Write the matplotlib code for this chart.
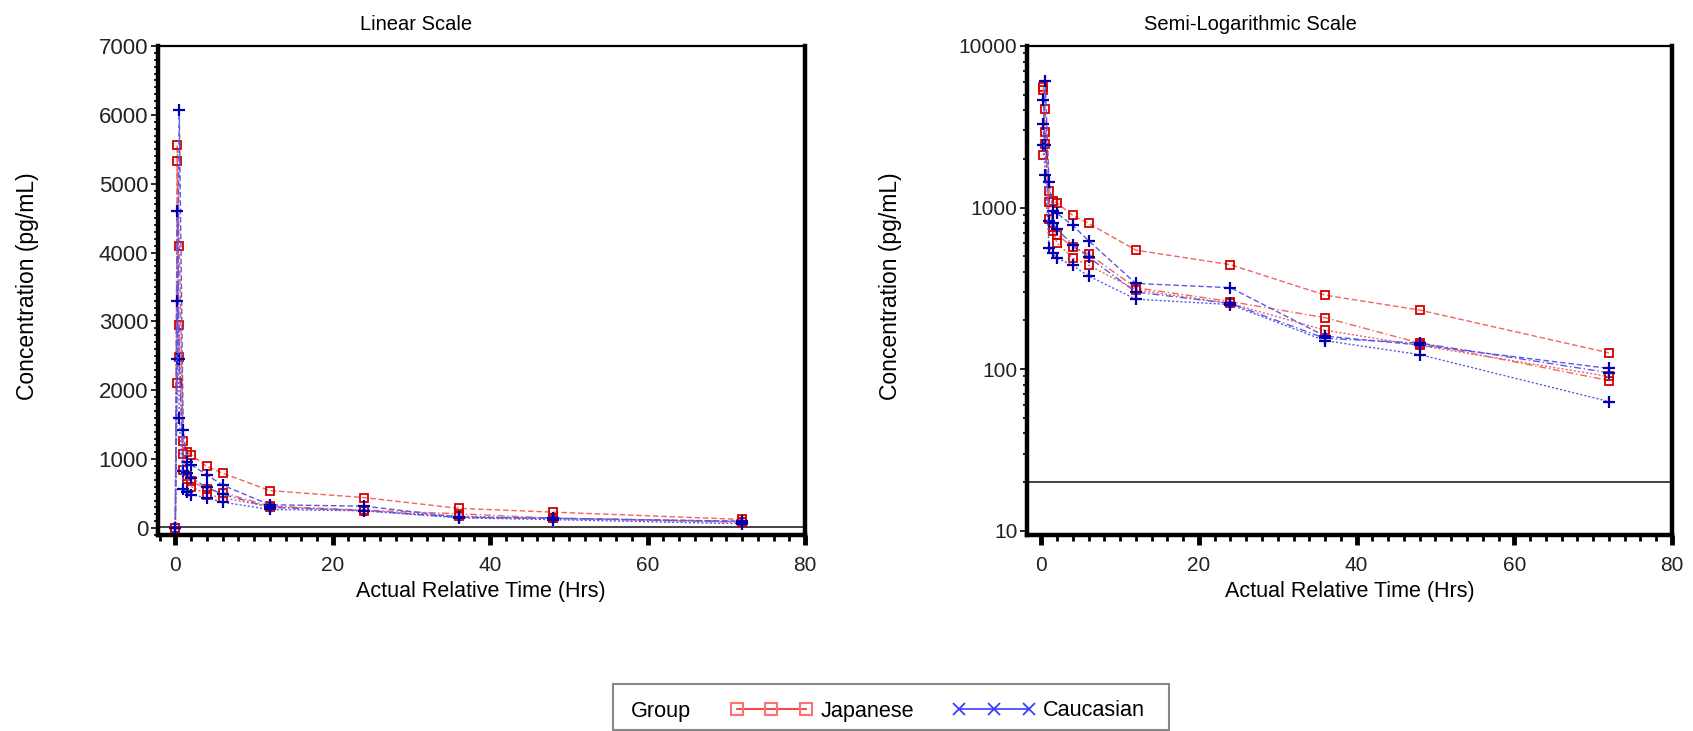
import numpy as np
import matplotlib
matplotlib.use("Agg")
import matplotlib.pyplot as plt
from matplotlib.lines import Line2D
from matplotlib.patches import Rectangle
from matplotlib.ticker import MultipleLocator, LogLocator, FixedLocator, NullFormatter, FuncFormatter

# nominal sampling times (hrs)
times = [0, 0.25, 0.5, 1, 1.5, 2, 4, 6, 12, 24, 36, 48, 72]

# concentrations (pg/mL) per subject
jp_1 = [0, 5560, 4100, 1270, 1100, 1064, 895, 798, 545, 443, 287, 232, 126]
jp_2 = [0, 5330, 2490, 1075, 760, 681, 568, 516, 319, 262, 208, 145, 85]
jp_3 = [0, 2100, 2950, 850, 720, 604, 487, 440, 310, 255, 174, 140, 90]
ca_1 = [0, 2450, 6070, 1430, 953, 921, 775, 624, 339, 319, 160, 141, 101]
ca_2 = [0, 4600, 2450, 825, 800, 732, 590, 493, 300, 255, 155, 145, 95]
ca_3 = [0, 3300, 1600, 562, 520, 487, 438, 377, 271, 251, 150, 123, 63]

japanese = [jp_1, jp_2, jp_3]
caucasian = [ca_1, ca_2, ca_3]
lloq = 20

group_labels = ["Japanese", "Caucasian"]

plt.rcParams["font.family"] = ["Liberation Sans", "DejaVu Sans"]

RED_LINE, RED_MK = "#f06464", "#d40000"
BLUE_LINE, BLUE_MK = "#5a5ae6", "#0000b0"
dashes = [(0, (4, 2)), (0, (5, 2, 1, 2)), (0, (1.5, 1.5))]

W, H = 1693, 731
fig = plt.figure(figsize=(W / 100, H / 100), dpi=100)

top, bot = 46, 535
ax_lin = fig.add_axes([158 / W, 1 - bot / H, (805 - 158) / W, (bot - top) / H])
ax_log = fig.add_axes([1027 / W, 1 - bot / H, (1672 - 1027) / W, (bot - top) / H])


def draw(ax, log=False):
    t = np.array(times, dtype=float)
    for i, c in enumerate(japanese):
        c = np.array(c, dtype=float)
        if log:
            c = np.where(c > 0, c, np.nan)
        ax.plot(t, c, color=RED_LINE, linestyle=dashes[i], linewidth=1.0,
                marker="s", markersize=6, markerfacecolor="none",
                markeredgecolor=RED_MK, markeredgewidth=1.3, zorder=3)
    for i, c in enumerate(caucasian):
        c = np.array(c, dtype=float)
        if log:
            c = np.where(c > 0, c, np.nan)
        ax.plot(t, c, color=BLUE_LINE, linestyle=dashes[i], linewidth=1.0,
                marker="+", markersize=9, markeredgecolor=BLUE_MK,
                markeredgewidth=1.6, zorder=4)
    ax.axhline(lloq, color="#222222", linewidth=1.2, zorder=2)

    for side in ["left", "bottom", "right"]:
        ax.spines[side].set_linewidth(3.2)
    ax.spines["top"].set_linewidth(1.6)

    ax.xaxis.set_major_locator(MultipleLocator(20))
    ax.xaxis.set_minor_locator(MultipleLocator(2))
    ax.tick_params(axis="x", which="major", direction="out", length=7, width=3.5,
                   labelsize=15, labelcolor="#222222", pad=8)
    ax.tick_params(axis="x", which="minor", direction="out", length=4, width=2)
    ax.tick_params(axis="y", which="major", direction="out", length=5, width=1.2,
                   labelcolor="#222222", pad=2)
    ax.tick_params(axis="y", which="minor", direction="out", length=3, width=1.2)


draw(ax_lin)
ax_lin.set_xlim(-2.2, 80)
ax_lin.set_ylim(-100, 7000)
ax_lin.yaxis.set_major_locator(MultipleLocator(1000))
ax_lin.yaxis.set_minor_locator(MultipleLocator(100))
ax_lin.tick_params(axis="y", labelsize=16)

draw(ax_log, log=True)
ax_log.set_yscale("log")
ax_log.set_xlim(-1.8, 80)
ax_log.set_ylim(9.4, 10000)
ax_log.yaxis.set_major_locator(FixedLocator([10, 100, 1000, 10000]))
ax_log.yaxis.set_major_formatter(FuncFormatter(lambda v, p: f"{v:.0f}"))
ax_log.yaxis.set_minor_locator(LogLocator(base=10, subs=np.arange(2, 10)))
ax_log.yaxis.set_minor_formatter(NullFormatter())
ax_log.tick_params(axis="y", labelsize=15)

# titles and axis labels
fig.text(416 / W, 1 - 24 / H, "Linear Scale", ha="center", va="center", fontsize=14.5)
fig.text(1250 / W, 1 - 24 / H, "Semi-Logarithmic Scale", ha="center", va="center", fontsize=14.5)
fig.text(481 / W, 1 - 592 / H, "Actual Relative Time (Hrs)", ha="center", va="center", fontsize=15.5)
fig.text(1350 / W, 1 - 592 / H, "Actual Relative Time (Hrs)", ha="center", va="center", fontsize=15.5)
fig.text(28 / W, 1 - 286 / H, "Concentration (pg/mL)", rotation=90, ha="center", va="center", fontsize=16.5)
fig.text(891 / W, 1 - 286 / H, "Concentration (pg/mL)", rotation=90, ha="center", va="center", fontsize=16.5)

# legend
fig.add_artist(Rectangle((613 / W, 0.002), (1169 - 613) / W, (731 - 685) / H,
                         transform=fig.transFigure, facecolor="white",
                         edgecolor="#888888", linewidth=1.5))
fig.text(631 / W, 1 - 711 / H, "Group", ha="left", va="center", fontsize=15.6)
handles = [
    Line2D([], [], color="#ff2020", linewidth=1.2, marker="s", markersize=8,
           markerfacecolor="none", markeredgecolor="#ff7070", markeredgewidth=1.5),
    Line2D([], [], color="#3c3cff", linewidth=1.2, marker="x", markersize=9,
           markeredgecolor="#3c3cff", markeredgewidth=1.3),
]
fig.legend(handles, group_labels, loc="center left", bbox_to_anchor=(730 / W, 1 - 711 / H),
           ncol=2, frameon=False, numpoints=3, handlelength=3.83, handletextpad=0.34,
           columnspacing=1.76, borderpad=0, borderaxespad=0, fontsize=15.6)

fig.savefig("out.png", dpi=100)
